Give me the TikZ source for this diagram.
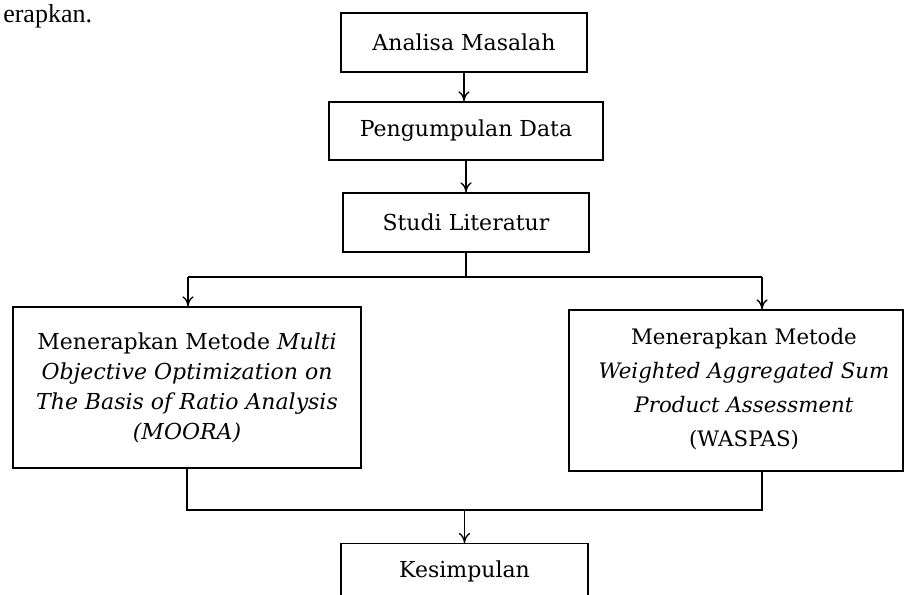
\documentclass[tikz,border=0pt]{standalone}
\usepackage{fontspec}
\setmainfont{DejaVu Serif}
\newfontfamily\bodyfont{Liberation Serif}
\usepackage{tikz}
\usetikzlibrary{arrows.meta}

\begin{document}
\begin{tikzpicture}[x=0.75pt,y=0.75pt,yscale=-1,xscale=1,
        kotak/.style={draw,line width=1pt,rectangle,inner sep=0pt,align=center,font=\fontsize{16.5}{22.5}\selectfont},
        garis/.style={line width=1pt},
        panah/.style={line width=1pt,-{To[length=7.5pt,width=8.5pt]}}]
        \useasboundingbox (0,0) rectangle (921,594);
        \clip (0,0) rectangle (921,594);
        
        % Text Node
        \node [anchor=base west,inner sep=0pt,font=\bodyfont\fontsize{19.5}{19.5}\selectfont] (teks) at (3,22) {erapkan.};
        
        %Shape: Rectangle [id:masalah] 
        \node [kotak,minimum width=184.5pt,minimum height=44.25pt] (masalah) at (464,42.5) {Analisa Masalah};
        %Shape: Rectangle [id:data] 
        \node [kotak,minimum width=205.5pt,minimum height=43.5pt] (data) at (466,131) {Pengumpulan Data};
        %Shape: Rectangle [id:studi] 
        \node [kotak,minimum width=184.5pt,minimum height=44.25pt] (studi) at (466,222.5) {Studi Literatur};
        %Shape: Rectangle [id:moora] 
        \node [kotak,minimum width=261pt,minimum height=120.75pt] (moora) at (187,387.5) {Menerapkan Metode \textit{Multi}\\ \textit{Objective Optimization on}\\ \textit{The Basis of Ratio Analysis}\\ \textit{(MOORA)}};
        %Shape: Rectangle [id:waspas] 
        \node [kotak,minimum width=250.5pt,minimum height=120.75pt] (waspas) at (736,390.5) {};
        % Text Node
        \node [align=center,inner sep=0pt,font=\fontsize{16}{25.5}\selectfont] (waspasteks) at (744,389) {Menerapkan Metode\\ \textit{Weighted Aggregated Sum}\\ \textit{Product Assessment}\\ (WASPAS)};
        %Shape: Rectangle [id:kesimpulan] 
        \node [kotak,minimum width=185.25pt,minimum height=42pt,anchor=north] (kesimpulan) at (464.5,543) {Kesimpulan};
        
        % Branch points
        \coordinate (cabangL) at (188,277);
        \coordinate (cabangR) at (762,277);
        \coordinate (gabungL) at (187,510);
        \coordinate (gabungR) at (762,510);
        
        %Straight Lines
        \draw [panah] (masalah.south) -- (masalah.south |- data.north);
        \draw [panah] (data.south) -- (data.south |- studi.north);
        \draw [garis] (studi.south) -- (studi.south |- cabangL);
        \draw [garis] (cabangL) -- (cabangR);
        \draw [panah] (cabangL) -- (cabangL |- moora.north);
        \draw [panah] (cabangR) -- (cabangR |- waspas.north);
        \draw [garis] (moora.south) -- (gabungL) -- (gabungR) -- (gabungR |- waspas.south);
        \draw [panah] (kesimpulan.north |- gabungL) -- (kesimpulan.north);
        
\end{tikzpicture}
\end{document}
